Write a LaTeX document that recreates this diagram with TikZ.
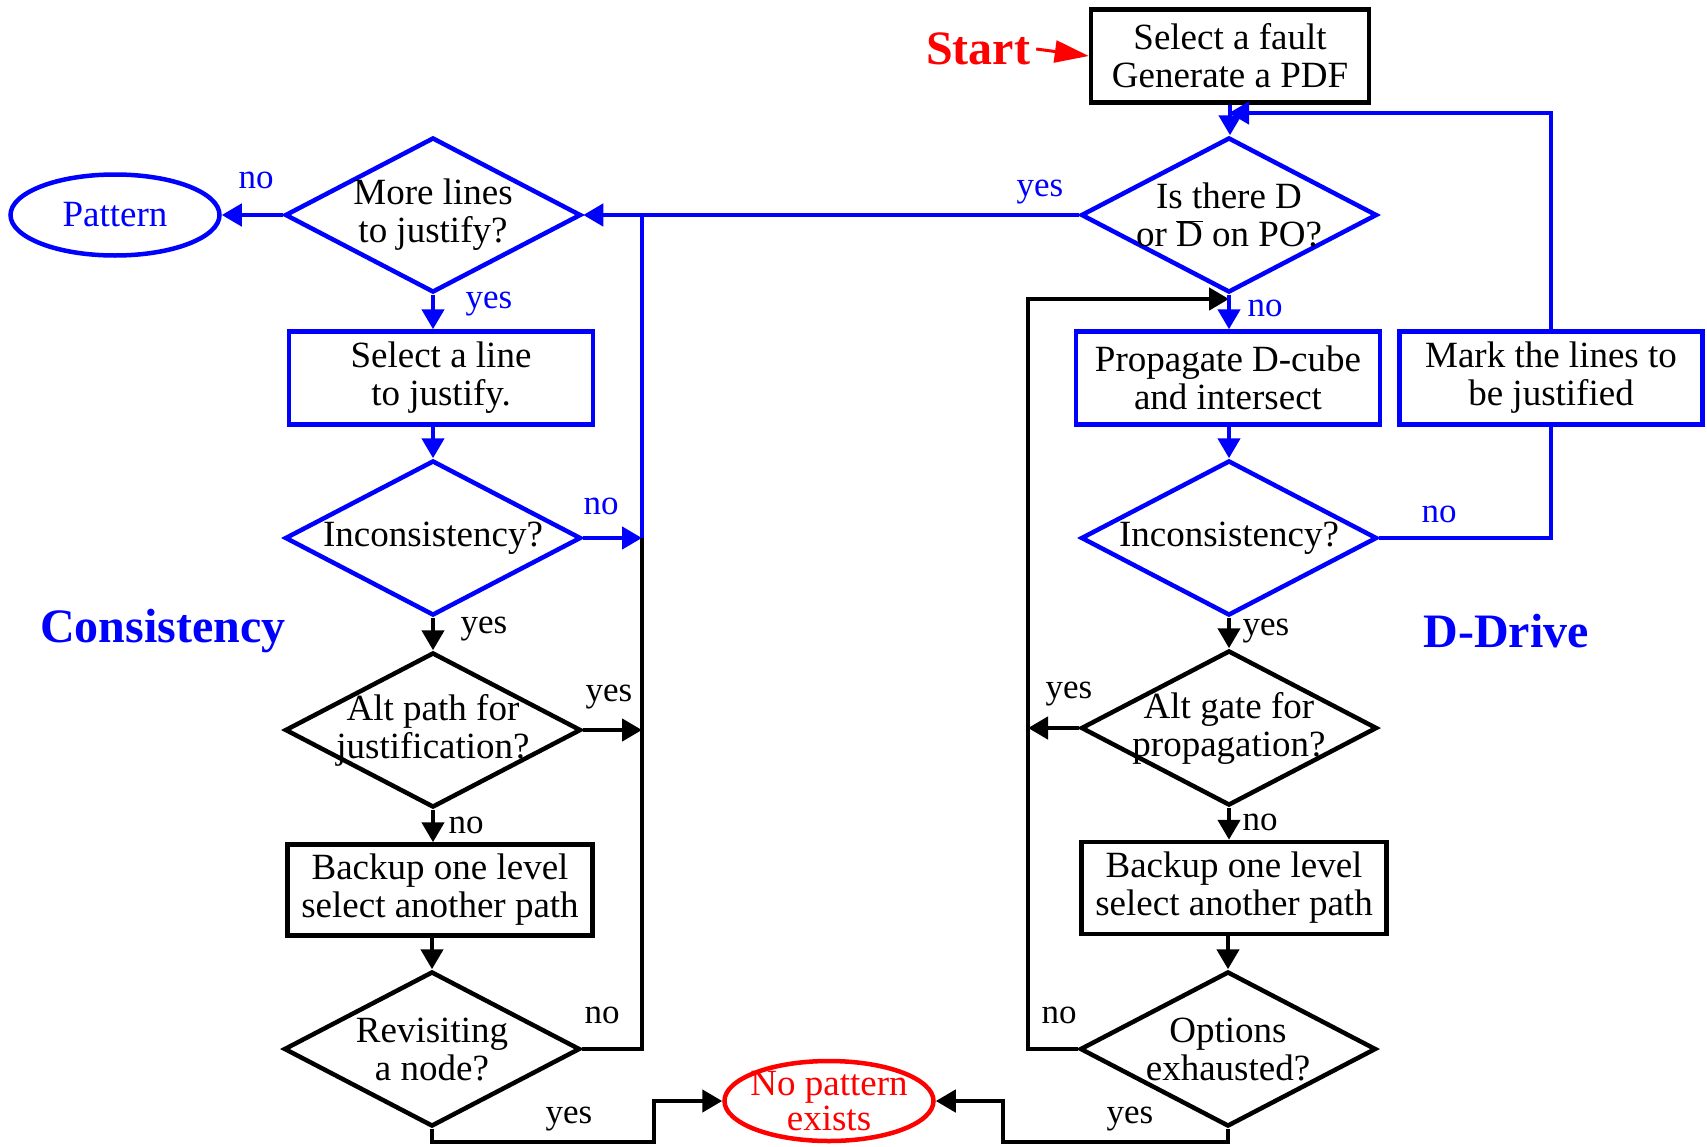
\documentclass[tikz,border=0pt]{standalone}
\usepackage{fontspec}
\setmainfont{Liberation Serif}
\usetikzlibrary{shapes.geometric,arrows.meta}
\tikzset{
  txt/.style={font=\fontsize{37}{38}\selectfont, align=center},
  box/.style={txt, draw, rectangle, line width=4.5pt, minimum width=304pt, minimum height=93pt, inner sep=0pt},
  dia/.style={txt, draw, diamond, line width=4.5pt, minimum width=296pt, minimum height=155pt, inner xsep=-40pt, inner ysep=-20pt},
  oval/.style={txt, draw, ellipse, line width=4.5pt, minimum width=209pt, minimum height=80pt, inner sep=-10pt},
  lbl/.style={font=\fontsize{35}{40}\selectfont, inner sep=0pt},
  big/.style={font=\fontsize{48}{54}\selectfont\bfseries, inner sep=0pt},
  ln/.style={line width=4.5pt},
  arr/.style={-{Triangle[length=20pt,width=22pt]}}
}
\begin{document}
\begin{tikzpicture}[x=1pt, y=-1pt]
\useasboundingbox (0,0) rectangle (1707,1146);
\node[box, minimum width=278pt] (fault) at (1230,56) {Select a fault\\Generate a PDF};
\node[big, red] (start) at (978,49) {Start};
\node[dia, draw=blue] (po) at (1229,215) {Is there D\\or $\overline{\mbox{D}}$ on PO?};
\node[box, draw=blue] (prop) at (1228,378) {Propagate D-cube\\and intersect};
\node[box, draw=blue, minimum width=303pt] (mark) at (1551,378) {Mark the lines to\\be justified};
\node[dia, draw=blue] (rinc) at (1229,538) {Inconsistency?};
\node[dia] (rgate) at (1229,728) {Alt gate for\\propagation?};
\node[box, minimum width=305pt, minimum height=92pt] (rback) at (1234,888) {Backup one level\\select another path};
\node[dia] (opts) at (1228,1049) {Options\\exhausted?};
\node[oval, draw=red, text=red] (nopat) at (829,1101) {No pattern\\[-3pt]exists};
\node[dia] (revis) at (432,1049) {Revisiting\\a node?};
\node[box, minimum width=305pt, minimum height=91pt] (lback) at (440,890) {Backup one level\\select another path};
\node[dia] (lalt) at (433,730) {Alt path for\\justification?};
\node[dia, draw=blue] (linc) at (433,538) {Inconsistency?};
\node[box, draw=blue] (selline) at (441,378) {Select a line\\to justify.};
\node[dia, draw=blue] (more) at (433,215) {More lines\\to justify?};
\node[oval, draw=blue, text=blue, minimum height=81pt] (pattern) at (115,215) {Pattern};
\node[big, blue] (cons) at (163,631) {Consistency};
\node[big, blue] (ddrive) at (1506,631) {D-Drive};
\coordinate (mtop) at (1229,113);
\coordinate (lbus) at (642,215);
\coordinate (rbus) at (1028,299);
\coordinate (lj) at (654,1142);
\coordinate (rj) at (1003,1142);
\draw[red, line width=3pt, -{Triangle[length=34pt,width=22pt]}] ([xshift=6pt]start.east) -- (fault.west);
\draw[ln, blue, arr] (fault.south) -- (fault.south |- po.north);
\draw[ln, blue, arr] (mark.north) |- (mtop);
\draw[ln, blue, arr] (po.west) -- (more.east);
\draw[ln, blue, arr] (more.west) -- (pattern.east);
\draw[ln, blue, arr] (more.south) -- (more.south |- selline.north);
\draw[ln, blue, arr] (linc.north |- selline.south) -- (linc.north);
\draw[ln, blue, arr] (linc.east) -- (linc.east -| lbus);
\draw[ln, blue] (linc.east -| lbus) -- (lbus);
\draw[ln] (revis.east) -| (linc.east -| lbus);
\draw[ln, arr] (linc.south) -- (lalt.north);
\draw[ln, arr] (lalt.east) -- (lalt.east -| lbus);
\draw[ln, arr] (lalt.south) -- (lalt.south |- lback.north);
\draw[ln, arr] (revis.north |- lback.south) -- (revis.north);
\draw[ln, arr] (revis.south) |- (lj) |- (nopat.west);
\draw[ln, arr] (opts.south) |- (rj) |- (nopat.east);
\draw[ln, arr] (opts.west) -| (rbus) -- (po.south |- rbus);
\draw[ln, arr] (rgate.west) -- (rgate.west -| rbus);
\draw[ln, blue, arr] (po.south) -- (po.south |- prop.north);
\draw[ln, blue, arr] (rinc.north |- prop.south) -- (rinc.north);
\draw[ln, blue] (rinc.east) -| (mark.south);
\draw[ln, arr] (rinc.south) -- (rgate.north);
\draw[ln, arr] (rgate.south) -- (rgate.south |- rback.north);
\draw[ln, arr] (opts.north |- rback.south) -- (opts.north);
\node[lbl, blue] (y1) at (1040,192) {yes};
\node[lbl, blue] (n1) at (1265,308) {no};
\node[lbl, blue] (n2) at (256,180) {no};
\node[lbl, blue] (y2) at (489,304) {yes};
\node[lbl, blue] (n3) at (601,506) {no};
\node[lbl, blue] (n4) at (1439,514) {no};
\node[lbl] (y3) at (484,629) {yes};
\node[lbl] (y4) at (609,697) {yes};
\node[lbl] (n5) at (466,825) {no};
\node[lbl] (n6) at (602,1015) {no};
\node[lbl] (y5) at (569,1119) {yes};
\node[lbl] (y6) at (1130,1119) {yes};
\node[lbl] (n7) at (1059,1015) {no};
\node[lbl] (y7) at (1069,694) {yes};
\node[lbl] (n8) at (1260,822) {no};
\node[lbl] (y8) at (1266,631) {yes};
\end{tikzpicture}
\end{document}
